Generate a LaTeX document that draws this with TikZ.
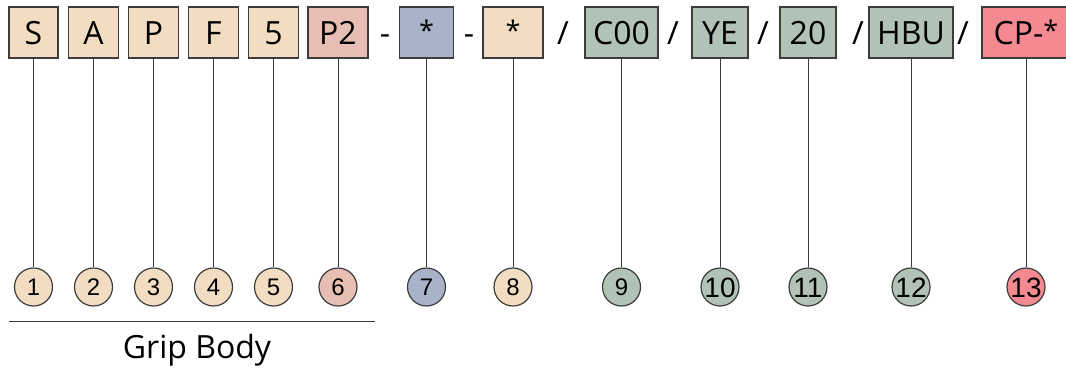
\documentclass[tikz,border=0pt]{standalone}
\usepackage{fontspec}
\setmainfont{Open Sans}
\newfontfamily\numfont{Liberation Sans}
\definecolor{cbeige}{RGB}{243,221,194}
\definecolor{cpink}{RGB}{230,190,180}
\definecolor{cblue}{RGB}{168,178,200}
\definecolor{cgreen}{RGB}{177,194,182}
\definecolor{cred}{RGB}{244,137,146}
\definecolor{cline}{RGB}{60,60,60}
\newcommand{\smstar}{\raisebox{4pt}{\fontsize{27}{30}\selectfont *}}
\begin{document}
\begin{tikzpicture}[x=1pt,y=-1pt,
  codebox/.style={draw=cline,line width=1.3pt,rectangle,minimum height=51pt,inner sep=0pt,
    text height=23pt,text depth=0pt,font=\fontsize{32}{36}\selectfont},
  sep/.style={inner sep=0pt,text height=23pt,text depth=0pt,font=\fontsize{32}{36}\selectfont},
  numc/.style={draw=cline,line width=1.2pt,circle,minimum size=38pt,inner sep=0pt,
    text height=17pt,text depth=0pt,font=\numfont\fontsize{24}{26}\selectfont},
  numcc/.style={numc,text height=20pt,font=\numfont\fontsize{28}{30}\selectfont},
  conn/.style={draw=cline,line width=1pt}]
\useasboundingbox (0,0) rectangle (1066,370);
% code boxes
\node[codebox,fill=cbeige,minimum width=49pt] (b1) at (33.5,32.5) {S};
\node[codebox,fill=cbeige,minimum width=50pt] (b2) at (93.5,32.5) {A};
\node[codebox,fill=cbeige,minimum width=50pt] (b3) at (153.5,32.5) {P};
\node[codebox,fill=cbeige,minimum width=50pt] (b4) at (213.5,32.5) {F};
\node[codebox,fill=cbeige,minimum width=50pt] (b5) at (273.5,32.5) {5};
\node[codebox,fill=cpink,minimum width=60pt] (b6) at (338,32.5) {P2};
\node[sep] (s1) at (385,32.5) {-};
\node[codebox,fill=cblue,minimum width=54pt] (b7) at (426.5,32.5) {\smstar};
\node[sep] (s2) at (469,32.5) {-};
\node[codebox,fill=cbeige,minimum width=60pt] (b8) at (513,32.5) {\smstar};
\node[sep] (s3) at (563,32.5) {/};
\node[codebox,fill=cgreen,minimum width=73pt] (b9) at (621.5,32.5) {C00};
\node[sep] (s4) at (673,32.5) {/};
\node[codebox,fill=cgreen,minimum width=56pt] (b10) at (720,32.5) {YE};
\node[sep] (s5) at (763,32.5) {/};
\node[codebox,fill=cgreen,minimum width=56pt] (b11) at (808,32.5) {20};
\node[sep] (s6) at (858,32.5) {/};
\node[codebox,fill=cgreen,minimum width=84pt] (b12) at (911,32.5) {HBU};
\node[sep] (s7) at (963,32.5) {/};
\node[codebox,fill=cred,minimum width=88pt] (b13) at (1026,32.5) {CP-\smstar};
% number circles
\node[numc,fill=cbeige] (c1) at (33.5,287) {1};
\node[numc,fill=cbeige] (c2) at (93.5,287) {2};
\node[numc,fill=cbeige] (c3) at (153.5,287) {3};
\node[numc,fill=cbeige] (c4) at (213.5,287) {4};
\node[numc,fill=cbeige] (c5) at (273.5,287) {5};
\node[numc,fill=cpink] (c6) at (338,287) {6};
\node[numc,fill=cblue] (c7) at (426.5,287) {7};
\node[numc,fill=cbeige] (c8) at (513,287) {8};
\node[numc,fill=cgreen] (c9) at (621.5,287) {9};
\node[numcc,fill=cgreen] (c10) at (720,287) {10};
\node[numcc,fill=cgreen] (c11) at (808,287) {11};
\node[numcc,fill=cgreen] (c12) at (911,287) {12};
\node[numcc,fill=cred] (c13) at (1026,287) {13};
% connectors
\foreach \i in {1,...,13}{\draw[conn] (b\i.south) -- (c\i.north);}
% grip body
\coordinate (gl) at (9,321);
\coordinate (gr) at (375,321);
\draw[conn] (gl) -- (gr);
\node[inner sep=0pt,anchor=base,font=\fontsize{32}{36}\selectfont] (grip) at (197,358) {Grip Body};
\end{tikzpicture}
\end{document}
